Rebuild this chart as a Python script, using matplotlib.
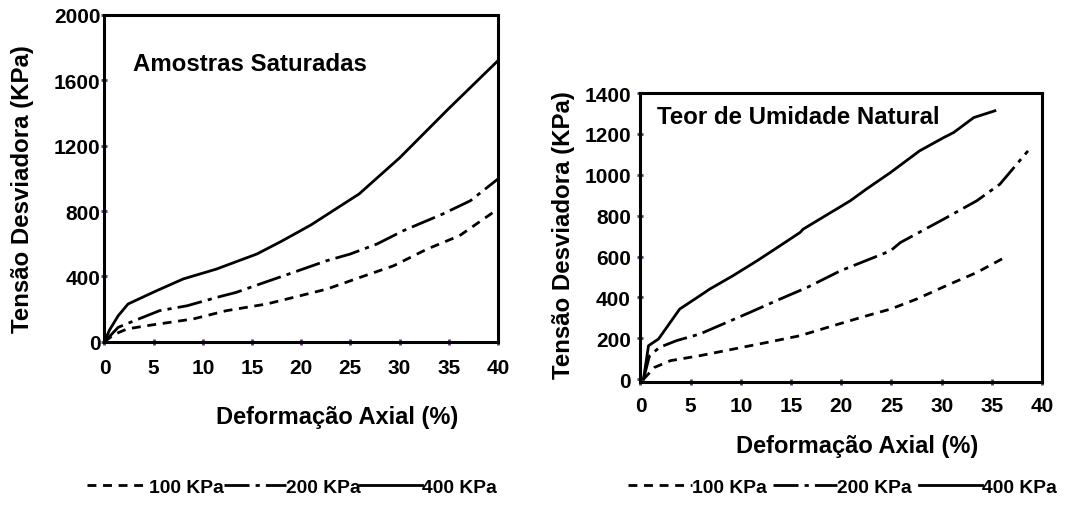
import matplotlib.pyplot as plt
from matplotlib.lines import Line2D

plt.rcParams['font.family'] = ['Liberation Sans', 'DejaVu Sans']
plt.rcParams['font.weight'] = 'bold'

# saturated samples
sat_x_100 = [0, 1, 2.3, 4.3, 9, 12.4, 16.5, 19.2, 22.6, 26, 29.4, 32.8, 36.1, 40]
sat_y_100 = [0, 45, 78, 98, 139, 190, 231, 271, 322, 394, 465, 567, 649, 812]
sat_x_200 = [0, 1.4, 2.6, 5.6, 8.4, 11.4, 13.4, 15.8, 19.2, 22.6, 25, 27.7, 30.4, 34.4, 37.2, 40]
sat_y_200 = [0, 88, 118, 190, 220, 271, 302, 353, 424, 496, 537, 598, 680, 782, 863, 996]
sat_x_400 = [0, 0.5, 1.4, 2.4, 5.3, 8.0, 11.4, 15.5, 18, 21, 25.9, 30, 35, 40]
sat_y_400 = [0, 70, 159, 231, 312, 384, 445, 537, 615, 715, 905, 1125, 1427, 1720]

# natural moisture content
nat_x_100 = [0.3, 1.4, 3, 5.9, 9.3, 12.6, 15.9, 19.2, 22.5, 24.9, 27.5, 30.8, 33.5, 36.6]
nat_y_100 = [0, 58, 91, 115, 148, 180, 213, 262, 310, 343, 392, 465, 522, 604]
nat_x_200 = [0.3, 0.9, 1.9, 3.6, 5.9, 8.6, 10.9, 13.9, 16.6, 19.9, 24.9, 25.9, 30.2, 33.5,
             35.8, 38.6]
nat_y_200 = [0, 115, 156, 189, 221, 278, 327, 392, 449, 530, 628, 669, 783, 873, 954, 1117]
nat_x_400 = [0.3, 0.8, 1.8, 3.9, 5.9, 6.9, 9.2, 11.6, 13.9, 15.9, 16.2, 20.9, 22.5, 24.9,
             27.8, 30.2, 31.2, 33.2, 35.3]
nat_y_400 = [0, 164, 197, 343, 408, 441, 506, 579, 653, 718, 734, 873, 930, 1011, 1117,
             1182, 1207, 1280, 1313]

labels = ['100 KPa', '200 KPa', '400 KPa']
styles = [(0, (3.2, 2.4)), (0, (9, 2.2, 1.5, 2.2)), '-']
x_ticks = list(range(0, 45, 5))

fig = plt.figure(figsize=(10.68, 5.06), dpi=100)
ax1 = fig.add_axes([0.0978, 0.3227, 0.3684, 0.6457])
ax2 = fig.add_axes([0.5997, 0.2437, 0.3760, 0.5705])

def style_axis(ax, ylim, yticks, title, tx, ty, xpad, ypad):
    ax.set_xlim(0, 40)
    ax.set_ylim(*ylim)
    ax.set_xticks(x_ticks)
    ax.set_yticks(yticks)
    for s in ax.spines.values():
        s.set_linewidth(2.2)
    ax.tick_params(direction='inout', length=5, width=2, color='#5a3a66', labelsize=15)
    ax.tick_params(axis='x', pad=xpad)
    ax.tick_params(axis='y', pad=ypad)
    for lab in ax.get_xticklabels() + ax.get_yticklabels():
        lab.set_fontweight('bold')
    ax.set_ylabel('Tensão Desviadora (KPa)', fontsize=17.3, fontweight='bold')
    ax.set_xlabel('Deformação Axial (%)', fontsize=17, fontweight='bold')
    ax.text(tx, ty, title, transform=ax.transAxes, fontsize=17.3, fontweight='bold',
            va='center')

series1 = [(sat_x_100, sat_y_100), (sat_x_200, sat_y_200), (sat_x_400, sat_y_400)]
series2 = [(nat_x_100, nat_y_100), (nat_x_200, nat_y_200), (nat_x_400, nat_y_400)]
for (x, y), ls in zip(series1, styles):
    ax1.plot(x, y, color='black', lw=2.0, ls=ls)
for (x, y), ls in zip(series2, styles):
    ax2.plot(x, y, color='black', lw=2.0, ls=ls)

style_axis(ax1, (0, 2000), [0, 400, 800, 1200, 1600, 2000], 'Amostras Saturadas',
           0.073, 0.85, 9, 0.5)
style_axis(ax2, (-12, 1400), [0, 200, 400, 600, 800, 1000, 1200, 1400],
           'Teor de Umidade Natural', 0.04, 0.917, 8, 4.5)
ax1.yaxis.set_label_coords(-0.179, 0.47)
ax2.yaxis.set_label_coords(-0.162, 0.51)
ax1.xaxis.set_label_coords(0.591, -0.194)
ax2.xaxis.set_label_coords(0.539, -0.181)

# legends below each panel
handles = [Line2D([], [], color='black', lw=2.0, ls=ls) for ls in styles]
fig.legend(handles, labels, loc='center', bbox_to_anchor=(0.2734, 0.035), ncol=3,
           frameon=False, handlelength=3.2, handletextpad=0.0, columnspacing=0.0,
           prop={'weight': 'bold', 'size': 13.9})
fig.legend(handles, labels, loc='center', bbox_to_anchor=(0.789, 0.035), ncol=3,
           frameon=False, handlelength=3.3, handletextpad=0.0, columnspacing=0.35,
           prop={'weight': 'bold', 'size': 13.9})

fig.savefig('out.png', dpi=100)
